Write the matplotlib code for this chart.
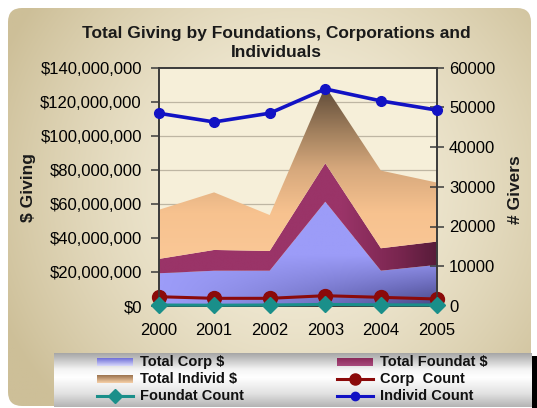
#!/usr/bin/python3
import numpy as np
import matplotlib
matplotlib.use('Agg')
import matplotlib.pyplot as plt
from matplotlib.colors import LinearSegmentedColormap, to_rgb
from matplotlib.patches import FancyBboxPatch, Rectangle
from matplotlib.ticker import FuncFormatter, MultipleLocator

plt.rcParams['font.family'] = ['Liberation Sans', 'DejaVu Sans']

# Giving data, 2000-2005
years = [2000, 2001, 2002, 2003, 2004, 2005]
corpDollars = [19.2e6, 20.7e6, 20.7e6, 61.2e6, 20.7e6, 24.1e6]
foundatDollars = [8.4e6, 12.2e6, 11.6e6, 22.6e6, 13.2e6, 13.7e6]
individDollars = [28.8e6, 33.8e6, 21.1e6, 45.2e6, 45.6e6, 34.7e6]
corpCount = [2340, 1930, 1930, 2590, 2180, 1760]
foundatCount = [250, 200, 250, 400, 300, 250]
individCount = [48500, 46300, 48500, 54600, 51600, 49300]

titleText = 'Total Giving by Foundations, Corporations and\nIndividuals'
legendLabels = ['Total Corp $', 'Total Foundat $', 'Total Individ $',
                'Corp  Count', 'Foundat Count', 'Individ Count']

W, H = 537, 408
DOLLAR_MAX = 140e6
COUNT_MAX = 60000


def gradientCmap(stops):
    return LinearSegmentedColormap.from_list('g', stops)


def gradientArea(ax, x, lower, upper, field, cmap, zorder):
    """
    Fill the area between lower and upper with an image of
    field (0..1) coloured by cmap, clipped to the area outline
    """
    poly = ax.fill_between(x, lower, upper, facecolor='none',
                           edgecolor='none', zorder=zorder)
    im = ax.imshow(field, cmap=cmap, vmin=0, vmax=1, origin='lower',
                   extent=(years[0], years[-1], 0, DOLLAR_MAX),
                   aspect='auto', interpolation='bilinear', zorder=zorder)
    im.set_clip_path(poly.get_paths()[0], transform=ax.transData)
    return im


fig = plt.figure(figsize=(W / 100, H / 100), dpi=100)
fig.patch.set_facecolor('white')

# rounded beige backdrop
bg = fig.add_axes([0, 0, 1, 1], zorder=-10)
bg.set_xlim(0, W)
bg.set_ylim(H, 0)
bg.axis('off')
gx, gy = np.meshgrid(np.linspace(0, 1, 300), np.linspace(0, 1, 300))
r = np.clip(np.sqrt(((gx - 0.55) / 0.62) ** 2 + ((gy - 0.45) / 0.8) ** 2), 0, 1) ** 1.6
light = np.array(to_rgb('#f6f0dd'))
dark = np.array(to_rgb('#cdbf98'))
bgImg = light[None, None, :] * (1 - r[..., None]) + dark[None, None, :] * r[..., None]
box = FancyBboxPatch((8, 8), 523, 398, boxstyle='round,pad=0,rounding_size=14',
                     transform=bg.transData, facecolor='none', edgecolor='none')
bim = bg.imshow(bgImg, extent=(8, 531, 406, 8), aspect='auto', interpolation='bilinear')
bim.set_clip_path(box)
bg.add_patch(Rectangle((532, 356), 5, 52, facecolor='black', edgecolor='none'))

# main chart
ax = fig.add_axes([158.5 / W, 1 - 306 / H, 278 / W, 238.5 / H])
ax.set_facecolor('#f6efd9')
ax.set_xlim(years[0], years[-1])
ax.set_ylim(0, DOLLAR_MAX)

for v in np.arange(20e6, DOLLAR_MAX, 20e6):
    ax.axhline(v, color='#9a9080', lw=0.9, alpha=0.6, zorder=0.5)

x = np.array(years, dtype=float)
corp = np.array(corpDollars)
foundTop = corp + np.array(foundatDollars)
indivTop = foundTop + np.array(individDollars)

X, Y = np.meshgrid(np.linspace(years[0], years[-1], 300), np.linspace(0, DOLLAR_MAX, 500))
xf = (X - years[0]) / (years[-1] - years[0])

corpDark = (xf ** 1.2) * (1 - np.clip(Y / 30e6, 0, 1)) * 0.9
gradientArea(ax, x, 0, corp, 1 - corpDark,
             gradientCmap(['#3f3f78', '#6c6cbc', '#9c9cf8']), 1)

foundDark = np.clip((X - 2003.3) / 1.7, 0, 1) * 0.85
gradientArea(ax, x, corp, foundTop, 1 - foundDark,
             gradientCmap(['#4a1830', '#7a2650', '#9a3468']), 1)

indivField = np.clip(Y / 130e6, 0, 1)
indivCmap = LinearSegmentedColormap.from_list(
    'indiv', [(0, '#fdcd9e'), (0.42, '#f7c28f'), (0.62, '#d6a87c'),
              (0.78, '#a4825f'), (1.0, '#5a4635')])
gradientArea(ax, x, foundTop, indivTop, indivField, indivCmap, 1)

ax.set_xticks(years)
ax.tick_params(axis='x', length=0, pad=12, labelsize=12)
ax.yaxis.set_major_locator(MultipleLocator(20e6))
ax.yaxis.set_major_formatter(FuncFormatter(lambda v, p: '${:,.0f}'.format(v)))
ax.tick_params(axis='y', direction='out', length=6, width=1.1, pad=6,
               labelsize=12, color='#3a3a3a')
for s in ax.spines.values():
    s.set_color('#3a3a3a')
    s.set_linewidth(1.2)

# counts on the right axis
ax2 = ax.twinx()
ax2.set_ylim(0, COUNT_MAX)
ax2.yaxis.set_major_locator(MultipleLocator(10000))
ax2.tick_params(axis='y', direction='inout', length=10, width=1.1, pad=4,
                labelsize=12, color='#3a3a3a')
for s in ax2.spines.values():
    s.set_color('#3a3a3a')
    s.set_linewidth(1.2)

ax2.plot(years, foundatCount, color='#1a8f8a', lw=2.2, marker='D', ms=8,
         clip_on=False, zorder=3)
ax2.plot(years, corpCount, color='#8b0a0a', lw=2.2, marker='o', ms=10,
         clip_on=False, zorder=2)
ax2.plot(years, individCount, color='#1212c4', lw=2.6, marker='o', ms=7,
         clip_on=False, zorder=4)

fig.text(276 / W, 1 - 43 / H, titleText, ha='center', va='center',
         fontsize=12.5, fontweight='bold', linespacing=1.35, color='#1a1a1a')
fig.text(28 / W, 1 - 188 / H, '$ Giving', rotation=90, ha='center', va='center',
         fontsize=12.5, fontweight='bold', color='#1a1a1a')
fig.text(516 / W, 1 - 190 / H, '# Givers', rotation=90, ha='center', va='center',
         fontsize=12.5, fontweight='bold', color='#1a1a1a')

# legend strip
lg = fig.add_axes([54 / W, 1 - 407 / H, (532 - 54) / W, (407 - 353) / H])
lg.set_xlim(54, 532)
lg.set_ylim(407, 353)
lg.axis('off')
ly = np.linspace(0, 1, 200)
lgCmap = LinearSegmentedColormap.from_list(
    'leg', [(0, '#a6a6a6'), (0.3, '#f4f4f4'), (0.45, '#ffffff'),
            (0.75, '#e2e2e2'), (1.0, '#b4b4b4')])
lg.imshow(ly[:, None] * np.ones((1, 50)), cmap=lgCmap, extent=(54, 532, 407, 353),
          aspect='auto', interpolation='bilinear')
lg.set_xlim(54, 532)
lg.set_ylim(407, 353)

rowY = [362, 379, 396]
colX = [97, 337]
swatchW = 36


def swatch(x0, y0, top, bottom):
    sy = np.linspace(0, 1, 20)[:, None] * np.ones((1, 5))
    lg.imshow(sy, cmap=gradientCmap([top, bottom]), vmin=0, vmax=1,
              extent=(x0, x0 + swatchW, y0 + 4, y0 - 4), aspect='auto',
              interpolation='bilinear')


def lineKey(x0, y0, color, marker, ms):
    lg.plot([x0, x0 + swatchW], [y0, y0], color=color, lw=2.2)
    lg.plot([x0 + swatchW / 2], [y0], color=color, marker=marker, ms=ms)


swatch(colX[0], rowY[0], '#7070d8', '#d6d6fa')
swatch(colX[1], rowY[0], '#8a2a5a', '#a84a7c')
swatch(colX[0], rowY[1], '#9c7450', '#f6cfa6')
lineKey(colX[1], rowY[1], '#8b0a0a', 'o', 8)
lineKey(colX[0], rowY[2], '#1a8f8a', 'D', 7)
lineKey(colX[1], rowY[2], '#1212c4', 'o', 6)
lg.set_xlim(54, 532)
lg.set_ylim(407, 353)

for i, label in enumerate(legendLabels):
    col = i % 2
    row = i // 2
    lg.text(colX[col] + swatchW + 7, rowY[row], label, ha='left', va='center',
            fontsize=10.5, fontweight='bold', color='#111111')

fig.savefig('out.png', dpi=100)
